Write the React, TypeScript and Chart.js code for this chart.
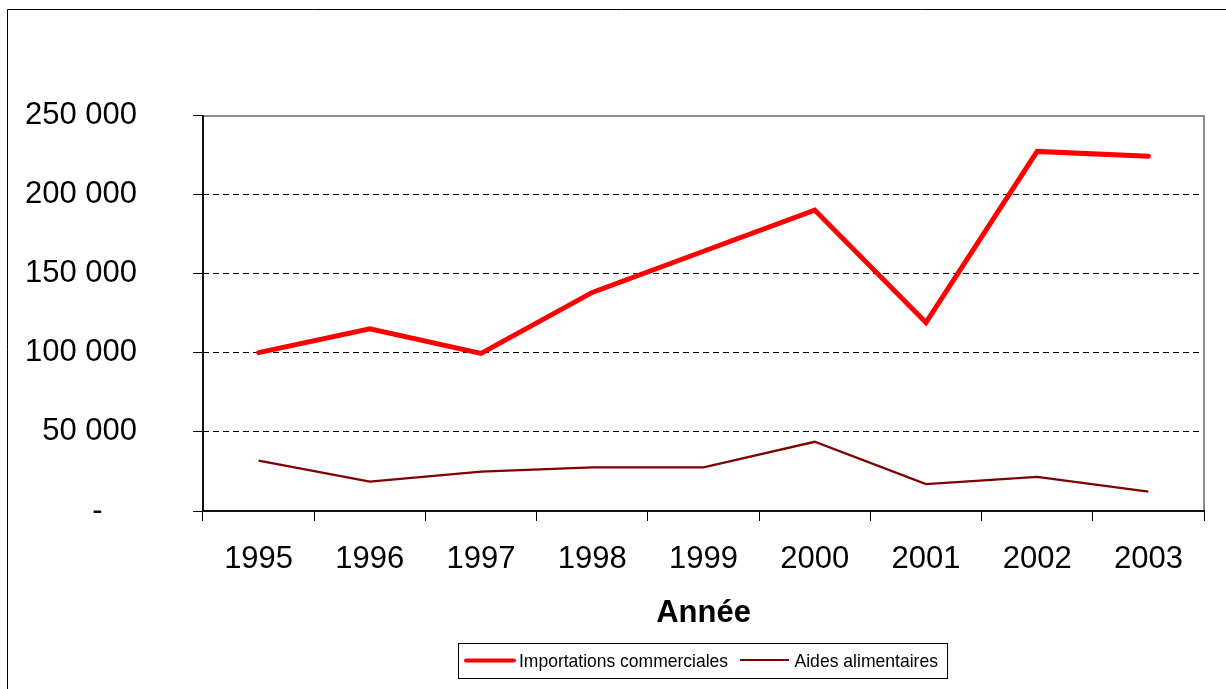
import React, { useEffect, useRef } from 'react';
import { Chart, registerables } from 'chart.js';

Chart.register(...registerables);

const years = ['1995', '1996', '1997', '1998', '1999', '2000', '2001', '2002', '2003'];
const importationsCommerciales = [100000, 115000, 99500, 138000, 164000, 190000, 119000, 227000, 224000];
const aidesAlimentaires = [31800, 18500, 24800, 27600, 27600, 43700, 17000, 21600, 12200];
const seriesLabels = ['Importations commerciales', 'Aides alimentaires'];
const axisTitle = 'Année';
const yMax = 250000;
const yStep = 50000;

const FONT = '"Liberation Sans", Arial, sans-serif';

function formatThousands(v: number): string {
  if (v === 0) return '-    ';
  return String(v).replace(/\B(?=(\d{3})+(?!\d))/g, ' ');
}

export default function App() {
  const ref = useRef<HTMLCanvasElement>(null);

  useEffect(() => {
    const canvas = ref.current;
    if (!canvas) return;

    const framePlugin = {
      id: 'frame',
      beforeDatasetsDraw(chart: any) {
        const { ctx, chartArea: a } = chart;
        ctx.save();
        ctx.setLineDash([]);
        // plot frame (top/right gray)
        ctx.strokeStyle = '#8c8c8c';
        ctx.lineWidth = 2;
        ctx.beginPath();
        ctx.moveTo(a.left, a.top + 1);
        ctx.lineTo(a.right, a.top + 1);
        ctx.lineTo(a.right, a.bottom);
        ctx.stroke();
        // axis lines (left/bottom dark)
        ctx.strokeStyle = '#111';
        ctx.beginPath();
        ctx.moveTo(a.left, a.top);
        ctx.lineTo(a.left, a.bottom);
        ctx.lineTo(a.right + 1, a.bottom);
        ctx.stroke();
        ctx.restore();
      },
      afterDraw(chart: any) {
        const { ctx } = chart;
        ctx.save();
        ctx.setLineDash([]);
        // outer chart border
        ctx.strokeStyle = '#000';
        ctx.lineWidth = 1;
        ctx.beginPath();
        ctx.moveTo(7.5, 689);
        ctx.lineTo(7.5, 9.5);
        ctx.lineTo(1226, 9.5);
        ctx.stroke();

        // legend
        ctx.strokeRect(458.5, 643.5, 489, 35);
        const ds = chart.data.datasets;
        ctx.lineCap = 'round';
        ctx.strokeStyle = ds[0].borderColor;
        ctx.lineWidth = 4;
        ctx.beginPath();
        ctx.moveTo(466, 660.5);
        ctx.lineTo(514, 660.5);
        ctx.stroke();
        ctx.strokeStyle = ds[1].borderColor;
        ctx.lineWidth = 2;
        ctx.lineCap = 'butt';
        ctx.beginPath();
        ctx.moveTo(740, 660);
        ctx.lineTo(789, 660);
        ctx.stroke();
        ctx.fillStyle = '#000';
        ctx.font = `18.5px ${FONT}`;
        ctx.textBaseline = 'alphabetic';
        ctx.textAlign = 'left';
        ctx.fillText(ds[0].label, 519, 667.3, 209);
        ctx.fillText(ds[1].label, 794.5, 667.3, 143.5);
        ctx.restore();
      },
    };

    const chart = new Chart(canvas, {
      type: 'line',
      data: {
        labels: years,
        datasets: [
          {
            label: seriesLabels[0],
            data: importationsCommerciales,
            borderColor: '#FF0000',
            borderWidth: 5,
            borderCapStyle: 'round',
            borderJoinStyle: 'miter',
            pointRadius: 0,
            fill: false,
            tension: 0,
          },
          {
            label: seriesLabels[1],
            data: aidesAlimentaires,
            borderColor: '#800000',
            borderWidth: 2.3,
            pointRadius: 0,
            fill: false,
            tension: 0,
          },
        ],
      },
      options: {
        responsive: false,
        animation: false,
        devicePixelRatio: 1,
        layout: { padding: { left: 0, right: 22, top: 115, bottom: 0 } },
        plugins: {
          legend: { display: false },
          tooltip: { enabled: false },
          title: { display: false },
        },
        scales: {
          x: {
            type: 'category',
            offset: true,
            afterFit(scale: any) {
              scale.height = 178;
            },
            grid: {
              offset: true,
              drawOnChartArea: false,
              drawTicks: true,
              tickLength: 10,
              color: '#000',
              tickColor: '#000',
              lineWidth: 1,
            },
            border: { display: false },
            ticks: {
              color: '#000',
              font: { family: FONT, size: 31 },
              padding: 20,
              maxRotation: 0,
              autoSkip: false,
            },
            title: {
              display: true,
              text: axisTitle,
              color: '#000',
              font: { family: FONT, size: 31, weight: 'bold' },
              padding: { top: 0, bottom: 57 },
            },
          },
          y: {
            min: 0,
            max: yMax,
            afterFit(scale: any) {
              scale.width = 203;
            },
            grid: {
              drawTicks: true,
              tickLength: 10,
              color: (c: any) =>
                c.tick && (c.tick.value === yMax || c.tick.value === 0) ? 'rgba(0,0,0,0)' : '#000',
              tickColor: '#000',
              tickBorderDash: [],
              lineWidth: 1,
            },
            border: { display: false, dash: [6, 4] },
            ticks: {
              stepSize: yStep,
              color: '#000',
              font: { family: FONT, size: 31 },
              padding: 56,
              callback: (v: any) => formatThousands(Number(v)),
            },
          },
        },
      },
      plugins: [framePlugin],
    } as any);

    return () => chart.destroy();
  }, []);

  return (
    <canvas
      ref={ref}
      width={1226}
      height={689}
      style={{ position: 'fixed', left: 0, top: 0, width: 1226, height: 689 }}
    />
  );
}
